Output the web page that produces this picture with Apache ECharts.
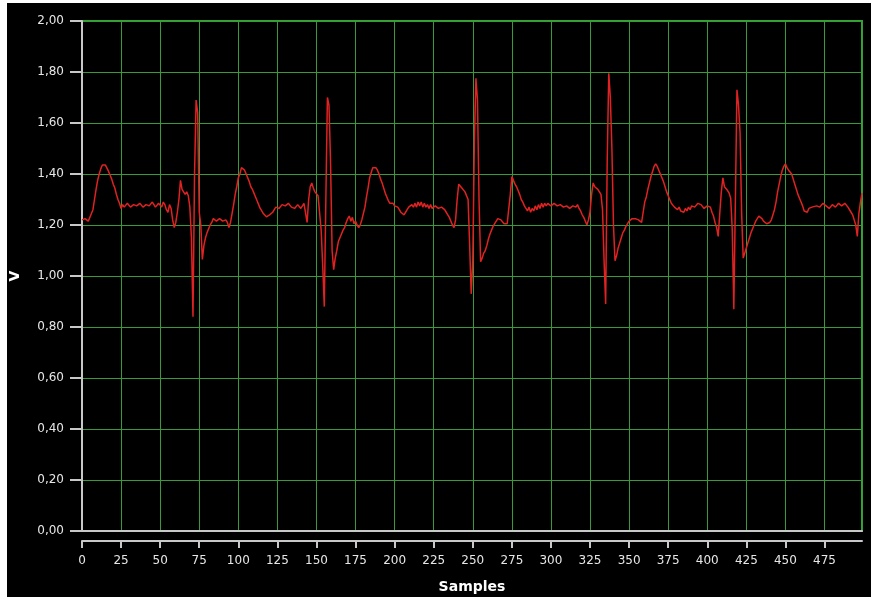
<!DOCTYPE html>
<html>
<head>
<meta charset="utf-8">
<script src="https://cdn.jsdelivr.net/npm/echarts@6/dist/echarts.min.js"></script>
<style>
html,body{margin:0;padding:0;background:#ffffff;}
#chart{position:absolute;left:7px;top:3px;width:864px;height:594px;background:#000;}
</style>
</head>
<body>
<div id="chart"></div>
<script>
var samples = [0,2,4,5,7,8,9,10,11,12,13,14,15,16,17,18,19,20,21,22,23,24,25,26,
27,29,31,33,35,37,39,41,43,45,47,49,51,52,53,54,55,56,57,58,59,60,61,62,63,64,65,66,67,68,69,
70,71,72,73,74,75,76,77,78,79,80,81,82,83,84,86,88,90,92,93,94,95,96,97,98,99,
100,101,102,103,104,105,106,107,108,109,110,111,112,113,114,115,116,117,118,119,120,121,122,123,124,126,128,130,132,134,136,138,140,142,143,144,145,146,147,148,149,150,151,152,153,154,155,156,157,158,159,
160,161,162,163,164,165,166,167,168,169,170,171,172,173,174,175,176,177,178,179,180,181,182,183,184,185,186,187,188,189,190,191,192,193,194,195,196,197,198,199,
200,201,202,203,204,205,206,207,208,209,210,211,212,213,214,215,216,217,218,219,220,221,222,223,224,226,228,230,232,233,234,235,236,237,238,239,240,241,242,243,244,245,246,247,248,249,
250,251,252,253,254,255,256,257,258,259,260,261,262,263,264,265,266,267,268,269,270,271,272,273,274,275,276,277,278,279,280,281,282,283,284,285,286,287,288,289,290,291,292,293,294,295,296,297,298,
300,302,304,306,308,310,312,314,316,317,318,319,320,321,322,323,324,325,326,327,328,329,330,331,332,333,334,335,336,337,338,339,340,341,342,343,344,345,346,347,348,349,
350,352,354,356,358,359,360,361,362,363,364,365,366,367,368,369,370,371,372,373,374,375,376,377,378,379,380,381,382,383,384,385,386,387,388,389,390,392,394,396,398,
400,402,403,404,405,406,407,408,409,410,411,412,413,414,415,416,417,418,419,420,421,422,423,424,425,426,427,428,429,430,431,432,433,434,435,436,437,438,440,441,442,443,444,445,446,447,448,449,
450,451,452,453,454,455,456,457,458,459,460,461,462,463,464,465,466,467,468,470,472,474,476,478,480,482,484,486,488,490,491,492,493,494,495,496,497,498,499];

var volts = [1.22,1.225,1.215,1.22,1.26,1.30,1.34,1.375,1.40,1.42,1.435,1.44,1.435,1.43,1.41,1.395,1.38,1.36,1.345,1.32,1.30,1.285,1.265,1.28,
1.27,1.285,1.27,1.28,1.275,1.285,1.27,1.28,1.275,1.29,1.27,1.285,1.27,1.29,1.28,1.26,1.25,1.28,1.265,1.22,1.19,1.21,1.25,1.30,1.375,1.34,1.345,1.32,1.33,1.315,1.27,
1.15,0.84,1.40,1.69,1.64,1.25,1.20,1.065,1.12,1.15,1.17,1.185,1.20,1.21,1.225,1.215,1.225,1.215,1.22,1.21,1.19,1.21,1.245,1.28,1.32,1.35,
1.385,1.40,1.425,1.43,1.415,1.40,1.385,1.37,1.35,1.34,1.325,1.31,1.295,1.28,1.265,1.255,1.245,1.24,1.232,1.235,1.24,1.235,1.25,1.26,1.27,1.265,1.28,1.275,1.285,1.27,1.265,1.28,1.265,1.285,1.29,1.21,1.30,1.35,1.365,1.345,1.33,1.325,1.315,1.31,1.18,1.04,0.88,1.30,1.70,1.67,1.45,
1.10,1.025,1.07,1.10,1.135,1.15,1.165,1.18,1.19,1.21,1.225,1.235,1.215,1.23,1.205,1.215,1.20,1.19,1.20,1.22,1.245,1.27,1.31,1.345,1.385,1.405,1.425,1.43,1.425,1.415,1.40,1.38,1.365,1.345,1.325,1.31,1.295,1.285,1.28,1.285,
1.275,1.28,1.27,1.26,1.25,1.245,1.24,1.25,1.26,1.27,1.265,1.28,1.27,1.285,1.27,1.29,1.275,1.29,1.27,1.285,1.27,1.28,1.265,1.28,1.265,1.275,1.265,1.27,1.26,1.25,1.24,1.23,1.215,1.20,1.19,1.22,1.30,1.36,1.36,1.345,1.345,1.33,1.325,1.30,1.12,0.93,
1.06,1.52,1.775,1.69,1.30,1.056,1.07,1.09,1.10,1.12,1.145,1.165,1.18,1.195,1.205,1.215,1.225,1.232,1.22,1.215,1.205,1.21,1.205,1.21,1.32,1.39,1.375,1.36,1.35,1.335,1.32,1.30,1.29,1.275,1.265,1.255,1.27,1.25,1.265,1.255,1.275,1.26,1.28,1.265,1.285,1.27,1.285,1.275,1.285,
1.275,1.285,1.275,1.28,1.27,1.275,1.265,1.275,1.27,1.28,1.265,1.255,1.24,1.23,1.215,1.20,1.22,1.25,1.32,1.365,1.35,1.345,1.34,1.33,1.32,1.26,1.06,0.89,1.45,1.795,1.70,1.50,1.20,1.06,1.08,1.11,1.13,1.15,1.17,1.18,1.195,1.205,
1.215,1.225,1.225,1.22,1.21,1.25,1.29,1.31,1.34,1.365,1.39,1.41,1.43,1.44,1.43,1.415,1.40,1.385,1.37,1.35,1.33,1.315,1.30,1.285,1.29,1.27,1.275,1.26,1.27,1.255,1.26,1.25,1.265,1.255,1.27,1.26,1.275,1.27,1.285,1.28,1.265,
1.275,1.27,1.25,1.235,1.21,1.19,1.155,1.245,1.33,1.385,1.35,1.345,1.335,1.325,1.305,1.18,0.87,1.30,1.73,1.67,1.56,1.245,1.07,1.09,1.11,1.13,1.15,1.17,1.185,1.20,1.215,1.225,1.235,1.24,1.225,1.215,1.21,1.205,1.21,1.22,1.24,1.26,1.29,1.33,1.36,1.39,1.415,1.43,
1.44,1.425,1.415,1.41,1.40,1.38,1.36,1.34,1.32,1.305,1.29,1.275,1.255,1.26,1.25,1.265,1.26,1.27,1.265,1.275,1.27,1.285,1.275,1.265,1.28,1.27,1.285,1.275,1.285,1.27,1.265,1.25,1.24,1.22,1.20,1.155,1.245,1.29,1.325];

var yTicks = ['0,00','0,20','0,40','0,60','0,80','1,00','1,20','1,40','1,60','1,80','2,00'];

var points = samples.map(function (s, i) { return [s, volts[i]]; });

var chart = echarts.init(document.getElementById('chart'), null, {renderer: 'canvas'});
var gridGreen = '#3a9a3a';
var axisGray = '#c8c8c8';
chart.setOption({
  backgroundColor: '#000000',
  animation: false,
  grid: {left: 75, right: 9, top: 18, bottom: 66, outerBoundsMode: 'none', containLabel: false,
    show: true, borderColor: '#2ea82e', borderWidth: 2, backgroundColor: 'transparent'},
  xAxis: [{
    type: 'value', min: 0, max: 499, interval: 25, position: 'bottom', offset: 10,
    name: 'Samples', nameLocation: 'middle', nameGap: 39,
    nameTextStyle: {color: '#ffffff', fontFamily: 'DejaVu Sans', fontSize: 14, fontWeight: 'bold'},
    axisLine: {show: true, onZero: false, lineStyle: {color: axisGray, width: 2}},
    axisTick: {show: true, length: 7, lineStyle: {color: axisGray, width: 2}},
    axisLabel: {color: '#e6e6e6', fontFamily: 'DejaVu Sans', fontSize: 12, margin: 14, showMaxLabel: false},
    splitLine: {show: true, lineStyle: {color: gridGreen, width: 1}},
    minorSplitLine: {show: false}
  }, {
    type: 'value', min: 0, max: 499, interval: 25, position: 'bottom', offset: 0,
    axisLine: {show: true, onZero: false, lineStyle: {color: axisGray, width: 2}},
    axisTick: {show: false}, axisLabel: {show: false}, splitLine: {show: false}
  }],
  yAxis: {
    type: 'value', min: 0, max: 2, interval: 0.2,
    name: 'V', nameLocation: 'middle', nameGap: 60, nameRotate: 90,
    nameTextStyle: {color: '#ffffff', fontFamily: 'DejaVu Sans', fontSize: 14, fontWeight: 'bold'},
    axisLine: {show: true, lineStyle: {color: axisGray, width: 2}},
    axisTick: {show: true, length: 12, lineStyle: {color: axisGray, width: 2}},
    axisLabel: {color: '#e6e6e6', fontFamily: 'DejaVu Sans', fontSize: 12, margin: 18,
      formatter: function (v) { return yTicks[Math.round(v / 0.2)]; }},
    splitLine: {show: true, lineStyle: {color: gridGreen, width: 1}}
  },
  series: [{
    type: 'line', xAxisIndex: 0, data: points, showSymbol: false, symbol: 'none',
    lineStyle: {color: '#e02222', width: 1.5}, z: 5
  }]
});
</script>
</body>
</html>
